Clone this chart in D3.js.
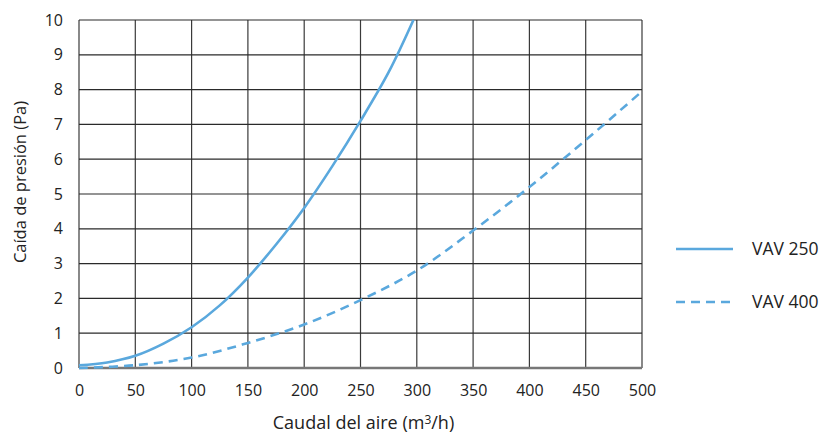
<!DOCTYPE html>
<html>
<head>
<meta charset="utf-8">
<script src="https://cdn.jsdelivr.net/npm/d3@7"></script>
<style>
body { margin: 0; background: #fff; }
text { font-family: "Open Sans", "Noto Sans", sans-serif; fill: #222; }
</style>
</head>
<body>
<div id="chart"></div>
<script>
var margin = { top: 20, right: 182, bottom: 69, left: 79 };
var width = 824 - margin.left - margin.right;
var height = 437 - margin.top - margin.bottom;

var xTicks = [0, 50, 100, 150, 200, 250, 300, 350, 400, 450, 500];
var yTicks = [0, 1, 2, 3, 4, 5, 6, 7, 8, 9, 10];

// VAV 250 (solid)
var vav250Flow = [0, 25, 50, 75, 100, 125, 150, 175, 200, 225, 250, 275, 297];
var vav250Drop = [0.08, 0.16, 0.35, 0.7, 1.17, 1.8, 2.6, 3.55, 4.6, 5.8, 7.1, 8.5, 10];

// VAV 400 (dashed)
var vav400Flow = [0, 50, 100, 150, 200, 250, 300, 350, 400, 450, 500];
var vav400Drop = [0.0, 0.08, 0.3, 0.72, 1.25, 1.95, 2.8, 3.95, 5.2, 6.55, 7.95];

var seriesNames = ["VAV 250", "VAV 400"];
var blue = "#5aa8dd";

var svg = d3.select("#chart").append("svg")
    .attr("width", 824)
    .attr("height", 437)
    .append("g")
    .attr("transform", "translate(" + margin.left + "," + margin.top + ")");

var x = d3.scaleLinear().domain([0, 500]).range([0, width]);
var y = d3.scaleLinear().domain([0, 10]).range([height, 0]);

// grid
svg.selectAll(".vgrid").data(xTicks).enter().append("line")
    .attr("x1", d => x(d)).attr("x2", d => x(d))
    .attr("y1", y(10)).attr("y2", y(0))
    .attr("stroke", "#3a3a3a").attr("stroke-width", 1.2);
svg.selectAll(".hgrid").data(yTicks).enter().append("line")
    .attr("x1", 0).attr("x2", width)
    .attr("y1", d => y(d)).attr("y2", d => y(d))
    .attr("stroke", "#2a2a2a").attr("stroke-width", 1.2);

// bottom axis line
svg.append("line")
    .attr("x1", 0).attr("x2", width)
    .attr("y1", y(0)).attr("y2", y(0))
    .attr("stroke", "#777").attr("stroke-width", 2.5);

// axes labels
var xAxis = d3.axisBottom(x).tickValues(xTicks).tickSize(0).tickPadding(17);
svg.append("g").attr("transform", "translate(0," + height + ")").call(xAxis)
    .call(g => g.select(".domain").remove())
    .selectAll("text").style("font-size", "16px").attr("fill", "#222");

var yAxis = d3.axisLeft(y).tickValues(yTicks).tickSize(0).tickPadding(16);
svg.append("g").call(yAxis)
    .call(g => g.select(".domain").remove())
    .selectAll("text").style("font-size", "16px").attr("fill", "#222");

// curves
var line = d3.line().x(d => x(d[0])).y(d => y(d[1])).curve(d3.curveCatmullRom.alpha(0.5));

svg.append("path")
    .datum(vav250Flow.map((f, i) => [f, vav250Drop[i]]))
    .attr("d", line)
    .attr("fill", "none").attr("stroke", blue).attr("stroke-width", 2.6);

svg.append("path")
    .datum(vav400Flow.map((f, i) => [f, vav400Drop[i]]))
    .attr("d", line)
    .attr("fill", "none").attr("stroke", blue).attr("stroke-width", 2.6)
    .attr("stroke-dasharray", "9,6");

// axis titles
svg.append("text")
    .attr("x", width / 2 + 3).attr("y", height + 61)
    .attr("text-anchor", "middle").style("font-size", "18px")
    .html('Caudal del aire (m<tspan dy="-5" style="font-size:12px">3</tspan><tspan dy="5">/h)</tspan>');

svg.append("text")
    .attr("transform", "translate(" + (-53) + "," + (height / 2 - 12) + ") rotate(-90)")
    .attr("text-anchor", "middle").style("font-size", "16.5px")
    .text("Caída de presión (Pa)");

// legend
var legend = svg.append("g").attr("transform", "translate(" + (width + 34) + ",0)");
seriesNames.forEach(function (name, i) {
    var ly = 229 + i * 53;
    legend.append("line")
        .attr("x1", 0).attr("x2", 57).attr("y1", ly).attr("y2", ly)
        .attr("stroke", blue).attr("stroke-width", 2.6)
        .attr("stroke-dasharray", i === 1 ? "9,6" : null);
    legend.append("text")
        .attr("x", 76).attr("y", ly + 6)
        .style("font-size", "17.5px")
        .text(name);
});
</script>
</body>
</html>
